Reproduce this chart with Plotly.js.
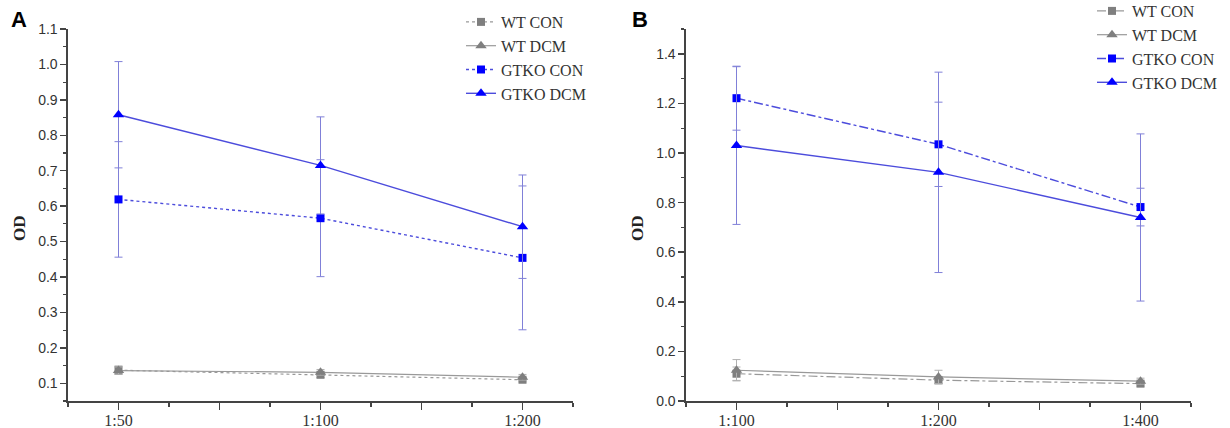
<!DOCTYPE html>
<html>
<head>
<meta charset="utf-8">
<script src="https://cdn.plot.ly/plotly-3.0.1.min.js"></script>
<style>html,body{margin:0;padding:0;background:#fff;}#chart{width:1230px;height:428px;}</style>
</head>
<body>
<div id="chart"></div>
<script>
// ---- data ----
const seriesNames = ['WT CON', 'WT DCM', 'GTKO CON', 'GTKO DCM'];
const yTitle = 'OD';
const panelLabels = ['A', 'B'];

const catsA = ['1:50', '1:100', '1:200'];
const aWtCon = [0.137, 0.124, 0.110];
const aWtConErr = [0.012, 0.008, 0.006];
const aWtDcm = [0.136, 0.131, 0.117];
const aWtDcmErr = [0.010, 0.008, 0.008];
const aGtCon = [0.619, 0.566, 0.454];
const aGtConErr = [0.163, 0.165, 0.203];
const aGtDcm = [0.858, 0.715, 0.542];
const aGtDcmErr = [0.150, 0.137, 0.146];

const catsB = ['1:100', '1:200', '1:400'];
const bWtCon = [0.110, 0.084, 0.070];
const bWtConErr = [0.027, 0.015, 0.010];
const bWtDcm = [0.124, 0.097, 0.080];
const bWtDcmErr = [0.043, 0.027, 0.012];
const bGtCon = [1.221, 1.035, 0.782];
const bGtConErr = [0.129, 0.170, 0.076];
const bGtDcm = [1.030, 0.922, 0.740];
const bGtDcmErr = [0.318, 0.404, 0.337];

// ---- styles ----
const GRAY_M = '#7f7f7f', GRAY_L = '#999999', GRAY_E = '#b0b0b0';
const BLUE_M = '#0000ff', BLUE_L = '#4c4cdc', BLUE_E = '#8080d8';

function tr(cats, y, err, name, isGt, isDcm, conDash, xa, ya, leg) {
  return {
    type: 'scatter', mode: 'lines+markers', name: name,
    x: cats.map((_, i) => i), y: y,
    xaxis: xa, yaxis: ya, legend: leg,
    line: { color: isGt ? BLUE_L : GRAY_L, width: isGt ? 1.4 : 1.2, dash: isDcm ? 'solid' : conDash },
    marker: { color: isGt ? BLUE_M : GRAY_M, symbol: isDcm ? 'triangle-up' : 'square', size: isDcm ? 10 : 8 },
    error_y: { type: 'data', array: err, visible: true, color: isGt ? BLUE_E : GRAY_E, thickness: 1, width: 4 }
  };
}

const traces = [
  tr(catsA, aWtCon, aWtConErr, seriesNames[0], false, false, 'dot', 'x', 'y', 'legend'),
  tr(catsA, aWtDcm, aWtDcmErr, seriesNames[1], false, true, 'dot', 'x', 'y', 'legend'),
  tr(catsA, aGtCon, aGtConErr, seriesNames[2], true, false, 'dot', 'x', 'y', 'legend'),
  tr(catsA, aGtDcm, aGtDcmErr, seriesNames[3], true, true, 'dot', 'x', 'y', 'legend'),
  tr(catsB, bWtCon, bWtConErr, seriesNames[0], false, false, 'dashdot', 'x2', 'y2', 'legend2'),
  tr(catsB, bWtDcm, bWtDcmErr, seriesNames[1], false, true, 'dashdot', 'x2', 'y2', 'legend2'),
  tr(catsB, bGtCon, bGtConErr, seriesNames[2], true, false, 'dashdot', 'x2', 'y2', 'legend2'),
  tr(catsB, bGtDcm, bGtDcmErr, seriesNames[3], true, true, 'dashdot', 'x2', 'y2', 'legend2')
];

const AX = '#444444';
function xaxis(cats, domain, anchor) {
  return {
    domain: domain, anchor: anchor, range: [-0.25, 2.25],
    tickmode: 'array', tickvals: [0, 0.5, 1, 1.5, 2],
    ticktext: [cats[0], '', cats[1], '', cats[2]],
    ticks: 'outside', ticklen: 7, tickwidth: 1.5, tickcolor: AX,
    ticklabelstandoff: -3,
    minor: { tickmode: 'linear', tick0: 0.25, dtick: 0.5, ticks: 'outside', ticklen: 4, tickwidth: 1.2, tickcolor: AX },
    showline: true, linecolor: AX, linewidth: 1.6, showgrid: false, zeroline: false,
    tickfont: { family: 'Liberation Serif', size: 16, color: '#333' }, fixedrange: true
  };
}
function yaxis(range, dtick, domainAnchor) {
  return {
    anchor: domainAnchor, range: range, tickmode: 'linear', tick0: 0, dtick: dtick, tickformat: '.1f',
    ticks: 'outside', ticklen: 6, tickwidth: 1.5, tickcolor: AX,
    minor: { dtick: dtick / 2, ticks: 'outside', ticklen: 3.5, tickwidth: 1.2, tickcolor: AX },
    showline: true, linecolor: AX, linewidth: 1.6, showgrid: false, zeroline: false,
    tickfont: { family: 'Liberation Sans', size: 14, color: '#333' },
    fixedrange: true
  };
}

const H = 372, T = 29;
const py = p => 1 + (T - p) / H; // pixel row -> paper y
const legendFont = { family: 'Liberation Serif', size: 16, color: '#333' };
const titleFont = { family: 'Liberation Serif', size: 17, color: '#222', weight: 'bold' };
const labelFont = { family: 'Liberation Sans', size: 22, color: '#000', weight: 'bold' };
const layout = {
  width: 1230, height: 428,
  margin: { l: 0, r: 0, t: T, b: 27, autoexpand: false },
  paper_bgcolor: '#fff', plot_bgcolor: '#fff',
  showlegend: true,
  xaxis: xaxis(catsA, [68 / 1230, 573 / 1230], 'y'),
  yaxis: yaxis([0.05, 1.1], 0.1, 'x'),
  xaxis2: xaxis(catsB, [686 / 1230, 1191 / 1230], 'y2'),
  yaxis2: yaxis([0, 1.5], 0.2, 'x2'),
  legend: { x: 461 / 1230, y: py(5), xanchor: 'left', yanchor: 'top', font: legendFont, bgcolor: 'rgba(0,0,0,0)', tracegroupgap: 0, itemclick: false },
  legend2: { x: 1092 / 1230, y: py(-6), xanchor: 'left', yanchor: 'top', font: legendFont, bgcolor: 'rgba(0,0,0,0)', tracegroupgap: 0, itemclick: false },
  annotations: [
    { text: panelLabels[0], xref: 'paper', yref: 'paper', x: 9 / 1230, y: py(19), xanchor: 'left', yanchor: 'middle', showarrow: false, font: labelFont },
    { text: panelLabels[1], xref: 'paper', yref: 'paper', x: 630 / 1230, y: py(19), xanchor: 'left', yanchor: 'middle', showarrow: false, font: labelFont },
    { text: yTitle, xref: 'paper', yref: 'paper', x: 19 / 1230, y: py(228), xanchor: 'center', yanchor: 'middle', textangle: -90, showarrow: false, font: titleFont },
    { text: yTitle, xref: 'paper', yref: 'paper', x: 637 / 1230, y: py(228), xanchor: 'center', yanchor: 'middle', textangle: -90, showarrow: false, font: titleFont }
  ]
};

Plotly.newPlot('chart', traces, layout, { displayModeBar: false, staticPlot: true });
</script>
</body>
</html>
